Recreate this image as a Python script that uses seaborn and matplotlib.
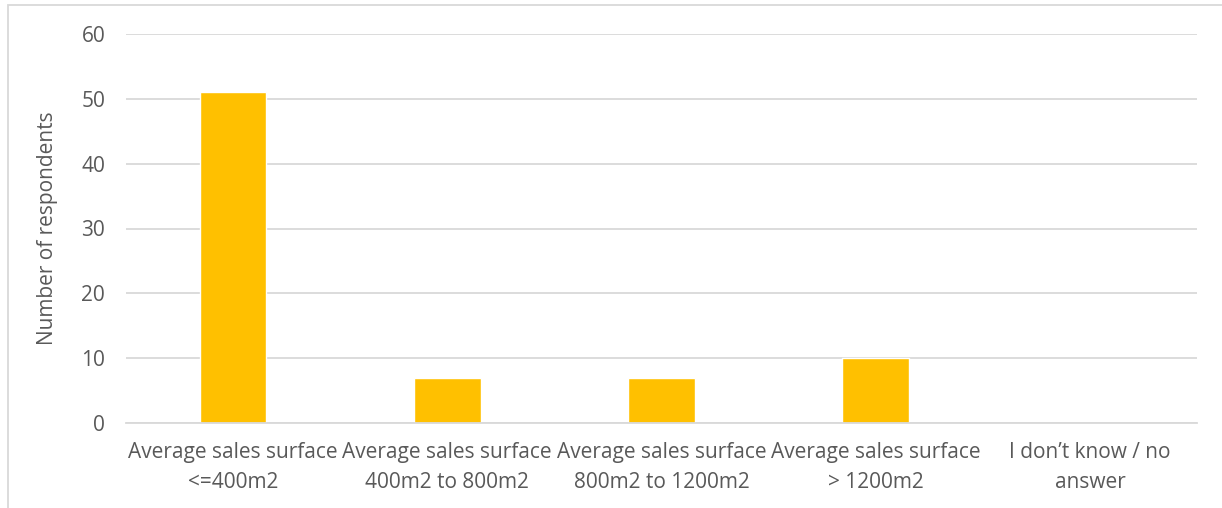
import matplotlib
matplotlib.use("Agg")
import matplotlib.pyplot as plt
import seaborn as sns
import pandas as pd
from matplotlib.patches import Rectangle

categories = [
    "Average sales surface\n<=400m2",
    "Average sales surface\n400m2 to 800m2",
    "Average sales surface\n800m2 to 1200m2",
    "Average sales surface\n> 1200m2",
    "I don\u2019t know / no\nanswer",
]
respondents = [51, 7, 7, 10, 0]
y_ticks = [0, 10, 20, 30, 40, 50, 60]

sns.set_theme(style="white")
plt.rcParams["font.family"] = ["Open Sans", "DejaVu Sans"]

text_color = "#595959"
grid_color = "#D9D9D9"

df = pd.DataFrame({"category": categories, "respondents": respondents})

fig = plt.figure(figsize=(12.22, 5.08), dpi=100)
ax = fig.add_axes([126 / 1222, 1 - 423 / 508, (1197 - 126) / 1222, (423 - 34) / 508])

sns.barplot(data=df, x="category", y="respondents", color="#FFC000",
            width=0.31, saturation=1, ax=ax, zorder=3)

ax.set_ylim(0, 60)
ax.set_yticks(y_ticks)
ax.set_xlim(-0.5, len(categories) - 0.5)
ax.yaxis.grid(True, color=grid_color, linewidth=1.3, zorder=0)
ax.xaxis.grid(False)
for side in ["top", "right", "left"]:
    ax.spines[side].set_visible(False)
ax.spines["bottom"].set_color(grid_color)
ax.spines["bottom"].set_linewidth(1.3)
ax.spines["bottom"].set_zorder(4)

ax.tick_params(axis="both", length=0, labelsize=15, colors=text_color)
ax.tick_params(axis="y", pad=15)
ax.tick_params(axis="x", pad=14)
for lbl in ax.get_xticklabels():
    lbl.set_linespacing(1.55)
ax.set_xlabel("")
ax.set_ylabel("Number of respondents", fontsize=15, color=text_color, labelpad=17)

# light frame around the chart area
fig.patches.append(Rectangle((8 / 1222, -0.1), 1.2, 1.1 - 5 / 508,
                             transform=fig.transFigure, fill=False,
                             edgecolor="#D9D9D9", linewidth=1.3))

fig.savefig("out.png", dpi=100)
